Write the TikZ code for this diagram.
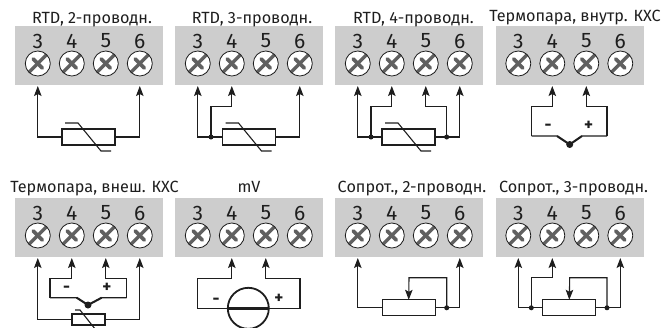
\documentclass[tikz,border=0pt]{standalone}
\usepackage{fontspec}
\setmainfont{Fira Sans}
\usetikzlibrary{arrows.meta}
\definecolor{panelgray}{HTML}{CDCDCD}
\definecolor{screwgray}{HTML}{606060}
\definecolor{ink}{HTML}{1E1E1E}
\tikzset{
  panelbox/.style={fill=panelgray,draw=none,minimum width=148pt,minimum height=59pt,inner sep=0pt,outer sep=0pt,anchor=north west},
  digit/.style={font=\fontsize{21}{21}\selectfont,text=ink,inner sep=0pt},
  titletext/.style={font=\fontsize{16.2}{17}\selectfont,text=ink,inner sep=0pt,anchor=base},
  screw/.style={circle,draw=ink,line width=0.8pt,fill=white,minimum size=25pt,inner sep=0pt,outer sep=0pt,
    path picture={
      \draw[screwgray,line width=3.4pt] ([shift={(-13pt,-13pt)}]path picture bounding box.center) -- ([shift={(13pt,13pt)}]path picture bounding box.center);
      \draw[screwgray,line width=3.8pt,line cap=round] ([shift={(-4.6pt,4.6pt)}]path picture bounding box.center) -- ([shift={(4.6pt,-4.6pt)}]path picture bounding box.center);
    }},
  wire/.style={draw=ink,line width=1.1pt},
  arrowwire/.style={wire,-{Stealth[length=10pt,width=7.5pt,inset=2pt]}},
  resistor/.style={draw=ink,line width=1.2pt,fill=white,minimum width=53pt,minimum height=16pt,inner sep=0pt,outer sep=0pt},
  smallresistor/.style={draw=ink,line width=1.2pt,fill=white,minimum width=33pt,minimum height=11pt,inner sep=0pt,outer sep=0pt},
  junction/.style={circle,fill=ink,minimum size=5pt,inner sep=0pt,outer sep=0pt},
  blob/.style={circle,fill=ink,minimum size=7pt,inner sep=0pt,outer sep=0pt},
  sign/.style={font=\bfseries\fontsize{17}{17}\selectfont,text=ink,inner sep=0pt},
  meter/.style={circle,draw=ink,line width=1.8pt,fill=white,minimum size=41pt,inner sep=0pt,outer sep=0pt},
}
\newcommand{\termblock}[3]{%
  \node[panelbox] (#1) at (#2,#3) {};
  \foreach \n/\dx in {3/22.8,4/56.8,5/90.8,6/124.8}{
    \node[digit] (#1d\n) at (#2+\dx,#3+15) {\n};
    \node[screw] (#1s\n) at (#2+\dx,#3+37.5) {};
    \coordinate (#1t\n) at (#2+\dx,#3+60);
  }%
}
\newcommand{\thermdiag}[1]{%
  \draw[wire] ([shift={(-23.5,-14)}]#1.center) -- ([shift={(-10.5,-14)}]#1.center) -- ([shift={(12.5,14)}]#1.center) -- ([shift={(22.5,14)}]#1.center);%
}
\begin{document}
\begin{tikzpicture}[x=1pt,y=-1pt]
\useasboundingbox (0,0) rectangle (667,327);
\clip (0,0) rectangle (667,327);
\termblock{a}{15}{26}
\termblock{b}{175}{26}
\termblock{c}{335}{26}
\termblock{d}{495.5}{26}
\termblock{e}{15}{198}
\termblock{f}{175}{198}
\termblock{g}{335}{198}
\termblock{h}{495.5}{198}
% titles
\node[titletext] (ta) at (92,23) {RTD, 2-проводн.};
\node[titletext] (tb) at (252,23) {RTD, 3-проводн.};
\node[titletext] (tc) at (413.5,23) {RTD, 4-проводн.};
\node[titletext] (td) at (575,21) {Термопара, внутр. КХС};
\node[titletext] (te) at (94.5,192) {Термопара, внеш. КХС};
\node[titletext] (tf) at (249,192) {mV};
\node[titletext] (tg) at (412,192) {Сопрот., 2-проводн.};
\node[titletext] (th) at (573.5,192) {Сопрот., 3-проводн.};
% RTD 2
\node[resistor] (ra) at (88.5,137) {};
\thermdiag{ra}
\draw[arrowwire] (ra.west) -| (at3);
\draw[arrowwire] (ra.east) -| (at6);
% RTD 3
\node[resistor] (rb) at (249,137) {};
\thermdiag{rb}
\node[junction] (jb) at (211,137) {};
\coordinate (kb) at (231.8,106.5);
\draw[arrowwire] (rb.west) -| (bt3);
\draw[arrowwire] (rb.east) -| (bt6);
\draw[arrowwire] (jb.center) |- (kb) -- (bt4);
% RTD 4
\node[resistor] (rc) at (408.5,137) {};
\thermdiag{rc}
\node[junction] (jc) at (371,137) {};
\node[junction] (jd) at (446.7,137) {};
\coordinate (kc) at (391.8,106.5);
\coordinate (kd) at (425.8,106.5);
\draw[arrowwire] (rc.west) -| (ct3);
\draw[arrowwire] (rc.east) -| (ct6);
\draw[arrowwire] (jc.center) |- (kc) -- (ct4);
\draw[arrowwire] (jd.center) |- (kd) -- (ct5);
% Thermocouple internal
\node[blob] (bd) at (569.7,144.5) {};
\coordinate (dl) at (531.7,136);
\coordinate (dr) at (607,136);
\coordinate (dla) at (557,136);
\coordinate (dra) at (582,136);
\coordinate (dk4) at (552.3,106.5);
\coordinate (dk5) at (586.3,106.5);
\draw[wire] (bd.center) -- (dla) -- (dl);
\draw[wire] (bd.center) -- (dra) -- (dr);
\draw[wire,line width=2pt] (bd.center) -- (dla);
\draw[wire,line width=2pt] (bd.center) -- (dra);
\draw[arrowwire] (dl) |- (dk4) -- (dt4);
\draw[arrowwire] (dr) |- (dk5) -- (dt5);
\node[sign] (dm) at (548,127.5) {-};
\node[sign] (dp) at (588.7,126) {+};
% Thermocouple external
\node[smallresistor] (re) at (88.5,319.5) {};
\draw[wire] ([shift={(-13.5,-9.5)}]re.center) -- ([shift={(-8.5,-9.5)}]re.center) -- ([shift={(7,10)}]re.center);
\draw[arrowwire] (re.west) -| (et3);
\draw[arrowwire] (re.east) -| (et6);
\node[blob] (be) at (88,305) {};
\coordinate (el) at (50,297.7);
\coordinate (er) at (126.7,297.7);
\coordinate (ela) at (76.7,297.7);
\coordinate (era) at (101.7,297.7);
\coordinate (ek4) at (71.8,278.3);
\coordinate (ek5) at (105.8,278.3);
\draw[wire] (be.center) -- (ela) -- (el);
\draw[wire] (be.center) -- (era) -- (er);
\draw[wire,line width=2pt] (be.center) -- (ela);
\draw[wire,line width=2pt] (be.center) -- (era);
\draw[arrowwire] (el) |- (ek4) -- (et4);
\draw[arrowwire] (er) |- (ek5) -- (et5);
\node[sign] (em) at (66.7,289.5) {-};
\node[sign] (ep) at (107,288) {+};
% mV
\node[meter] (mv) at (248.3,308.3) {};
\draw[wire,line width=3pt] (mv.west) -- (mv.east);
\coordinate (fl) at (197.7,278.3);
\coordinate (fr) at (300,278.3);
\coordinate (fk4) at (231.8,278.3);
\coordinate (fk5) at (265.8,278.3);
\draw[arrowwire] (mv.west) -| (fl) -- (fk4) -- (ft4);
\draw[arrowwire] (mv.east) -| (fr) -- (fk5) -- (ft5);
\node[sign] (fm) at (216,301.5) {-};
\node[sign] (fp) at (279,299) {+};
% Resistance 2 wire
\node[resistor] (rg) at (408.7,307.8) {};
\node[junction] (jg) at (446.7,307.8) {};
\coordinate (kg) at (409,277.7);
\draw[arrowwire] (rg.west) -| (gt3);
\draw[arrowwire] (rg.east) -| (gt6);
\draw[arrowwire] (jg.center) |- (kg) -- (rg.north);
% Resistance 3 wire
\node[resistor] (rh) at (569.3,307.8) {};
\node[junction] (jh) at (531.3,307.8) {};
\node[junction] (ji) at (607,307.8) {};
\coordinate (kh) at (552.3,277.7);
\coordinate (ki) at (569.7,277.7);
\draw[arrowwire] (rh.west) -| (ht3);
\draw[arrowwire] (rh.east) -| (ht6);
\draw[arrowwire] (jh.center) |- (kh) -- (ht4);
\draw[arrowwire] (ji.center) |- (ki) -- (rh.north);
\end{tikzpicture}
\end{document}
